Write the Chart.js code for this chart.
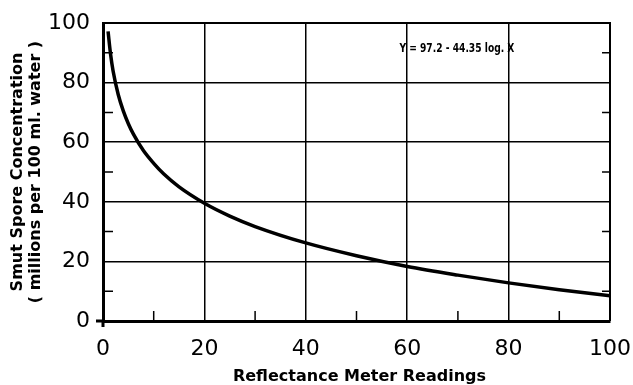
<!DOCTYPE html>
<html>
<head>
<meta charset="utf-8">
<script src="https://cdn.jsdelivr.net/npm/chart.js@4"></script>
<style>
  html, body { margin: 0; padding: 0; background: #fff; }
  #wrap { width: 633px; height: 385px; }
</style>
</head>
<body>
<div id="wrap"><canvas id="chart" width="633" height="385"></canvas></div>
<script>
// readings along the curve
const meterReadings = [1, 1.5, 2, 3, 4, 5, 6, 8, 10, 12, 15, 20, 25, 30, 40, 50, 60, 70, 80, 90, 100];
const sporeConc = [97.2, 89.4, 83.8, 76.0, 70.5, 66.2, 62.7, 57.1, 52.9, 49.3, 45.0, 39.5, 35.2, 31.7, 26.2, 21.9, 18.3, 15.4, 12.8, 10.5, 8.5];
const minorTicks = [10, 30, 50, 70, 90];
const xTitle = 'Reflectance Meter Readings';
const yTitle = ['Smut Spore Concentration', '( millions per 100 ml. water )'];
const equation = 'Y = 97.2 - 44.35 log. X';

const extras = {
  id: 'extras',
  afterDraw(chart) {
    const { ctx, chartArea: a, scales } = chart;
    const x = scales.x, y = scales.y;
    ctx.save();
    ctx.strokeStyle = '#000';

    // top + right frame
    ctx.lineWidth = 2;
    ctx.beginPath();
    ctx.moveTo(a.left, a.top);
    ctx.lineTo(a.right, a.top);
    ctx.lineTo(a.right, a.bottom);
    ctx.stroke();

    // minor ticks
    ctx.lineWidth = 1.5;
    ctx.beginPath();
    minorTicks.forEach(v => {
      const py = y.getPixelForValue(v);
      ctx.moveTo(a.left, py); ctx.lineTo(a.left + 10, py);
      ctx.moveTo(a.right, py); ctx.lineTo(a.right - 8, py);
      const px = x.getPixelForValue(v);
      ctx.moveTo(px, a.bottom); ctx.lineTo(px, a.bottom - 10);
    });
    ctx.stroke();

    // little stubs at the origin
    ctx.lineWidth = 3;
    ctx.beginPath();
    ctx.moveTo(a.left, a.bottom); ctx.lineTo(a.left, a.bottom + 6);
    ctx.moveTo(a.left, a.bottom); ctx.lineTo(a.left - 7, a.bottom);
    ctx.stroke();

    ctx.fillStyle = '#000';
    // equation label
    ctx.font = 'bold 12px "DejaVu Sans Condensed", "DejaVu Sans", sans-serif';
    ctx.textAlign = 'center';
    ctx.textBaseline = 'middle';
    ctx.fillText(equation, x.getPixelForValue(69.8), y.getPixelForValue(91.4), 115);

    // axis titles
    ctx.font = 'bold 16px "DejaVu Sans", sans-serif';
    ctx.fillText(xTitle, (a.left + a.right) / 2 + 3, 377);

    const cy = (a.top + a.bottom) / 2;
    [18, 36].forEach((tx, i) => {
      ctx.save();
      ctx.translate(tx, cy);
      ctx.rotate(-Math.PI / 2);
      ctx.fillText(yTitle[i], 0, 0);
      ctx.restore();
    });
    ctx.restore();
  }
};

new Chart(document.getElementById('chart'), {
  type: 'line',
  data: {
    datasets: [{
      data: meterReadings.map((v, i) => ({ x: v, y: sporeConc[i] })),
      borderColor: '#000',
      borderWidth: 3.5,
      pointRadius: 0,
      cubicInterpolationMode: 'monotone',
      fill: false
    }]
  },
  options: {
    responsive: false,
    animation: false,
    devicePixelRatio: 1,
    layout: { padding: { top: 23, right: 23, left: 0, bottom: 0 } },
    plugins: { legend: { display: false }, tooltip: { enabled: false } },
    scales: {
      x: {
        type: 'linear',
        min: 0, max: 100,
        afterFit: s => { s.height = 64; s.paddingLeft = 0; s.paddingRight = 0; },
        grid: { color: '#000', lineWidth: 1.5, drawTicks: false },
        border: { color: '#000', width: 3 },
        ticks: { stepSize: 20, padding: 15, color: '#000', font: { family: '"DejaVu Sans", sans-serif', size: 22 } }
      },
      y: {
        min: 0, max: 100,
        afterFit: s => { s.width = 103; s.paddingTop = 0; s.paddingBottom = 0; },
        grid: { color: '#000', lineWidth: 1.5, drawTicks: false },
        border: { color: '#000', width: 3 },
        ticks: { stepSize: 20, padding: 13, color: '#000', font: { family: '"DejaVu Sans", sans-serif', size: 22 } }
      }
    }
  },
  plugins: [extras]
});
</script>
</body>
</html>
